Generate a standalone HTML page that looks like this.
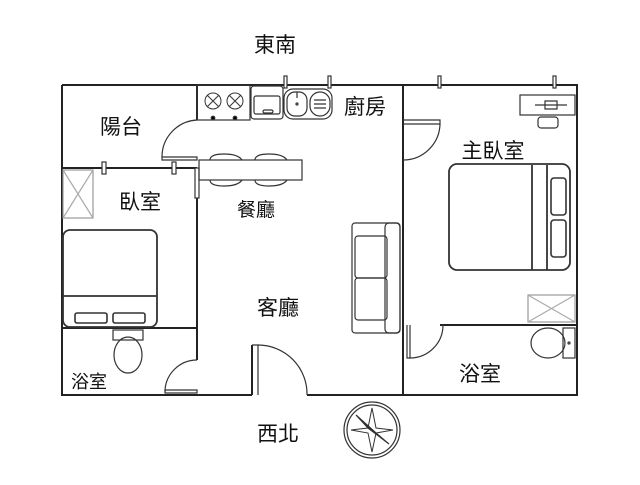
<!DOCTYPE html>
<html><head><meta charset="utf-8"><style>
body{margin:0;background:#fff;width:640px;height:480px;overflow:hidden}
text{font-family:"Liberation Sans","Noto Sans CJK TC",sans-serif;fill:#111}
</style></head><body>
<svg width="640" height="480" viewBox="0 0 640 480" xmlns="http://www.w3.org/2000/svg">
<g fill="none" stroke="#222" stroke-width="2">
<path d="M62 85 H577 V395 H307"/>
<path d="M252 395 H62 V85"/>
<path d="M197 85 V120"/>
<path d="M62 168 H197"/>
<path d="M197 168 V360"/>
<path d="M62 328 H197"/>
<path d="M252 345 V395"/>
<path d="M403 85 V395"/>
<path d="M440 325 H577"/>
</g>
<g fill="none" stroke="#333" stroke-width="1.2">
<path d="M197 120 A37 37 0 0 0 162 157"/><path d="M162 157 H197 V160 H162 Z"/>
<rect x="102" y="162" width="4" height="12" fill="#fff"/><rect x="172" y="162" width="4" height="12" fill="#fff"/>
<rect x="284" y="76" width="3" height="12" fill="#fff"/><rect x="328" y="76" width="3" height="12" fill="#fff"/>
<rect x="438" y="76" width="3" height="12" fill="#fff"/><rect x="553" y="76" width="3" height="12" fill="#fff"/>
<rect x="195" y="168" width="4" height="30" fill="#fff"/>
<path d="M197 360 A32 32 0 0 0 165 392"/><path d="M165 390 H197 V393 H165 Z"/>
<path d="M252 345 H258 V395"/><path d="M258 345 A49 49 0 0 1 307 395"/>
<path d="M403 120 H440 V124 H403"/><path d="M440 124 A37 37 0 0 1 403 160"/>
<path d="M407 325 V358 H410 V325"/><path d="M443 325 A33 33 0 0 1 410 358"/>
<rect x="197" y="85" width="53" height="35"/>
<g stroke-width="1"><circle cx="213" cy="101" r="8"/><circle cx="235" cy="101" r="8"/>
<path d="M207 95 l12 12 M219 95 l-12 12 M229 95 l12 12 M241 95 l-12 12"/></g>
<circle cx="213" cy="118" r="1.8" fill="#000"/><circle cx="235" cy="118" r="1.8" fill="#000"/>
<rect x="251" y="86" width="32" height="33" rx="3"/>
<rect x="254" y="96" width="26" height="18" rx="2"/>
<rect x="263" y="110" width="10" height="3" rx="1.5"/>
<rect x="284" y="89" width="48" height="30" rx="9"/>
<rect x="287" y="92" width="20" height="24" rx="8"/><rect x="310" y="92" width="20" height="24" rx="10"/>
<path d="M314 100 h12 M314 104 h12 M314 108 h12"/><circle cx="297" cy="104" r="1"/><path d="M297 92 v6"/>
<rect x="199" y="160" width="103" height="20"/>
<path d="M210 160 q0 -6 14 -6 q14 0 18 6 M255 160 q0 -6 14 -6 q14 0 18 6 M210 180 q0 6 14 6 q14 0 18 -6 M255 180 q0 6 14 6 q14 0 18 -6"/>
<rect x="352" y="223" width="48" height="110" rx="3"/>
<rect x="385" y="223" width="15" height="110" rx="4"/>
<rect x="355" y="236" width="32" height="42" rx="3"/><rect x="355" y="278" width="32" height="42" rx="3"/>
<rect x="63" y="170" width="30" height="48" stroke="#999"/><path d="M63 170 L93 218 M93 170 L63 218" stroke="#aaa"/>
<rect x="63" y="230" width="94" height="97" rx="7" stroke-width="1.8"/>
<path d="M63 296 H157" stroke-width="1.8"/>
<rect x="75" y="313" width="32" height="10" rx="2" stroke-width="1.6"/><rect x="113" y="313" width="32" height="10" rx="2" stroke-width="1.6"/>
<rect x="113" y="330" width="30" height="10"/><ellipse cx="128" cy="355" rx="14" ry="18"/>
<rect x="449" y="164" width="121" height="106" rx="8" stroke-width="1.8"/>
<path d="M532 165 V270 M547 165 V270" stroke-width="1.8"/>
<rect x="551" y="178" width="15" height="37" rx="3" stroke-width="1.6"/><rect x="551" y="220" width="15" height="37" rx="3" stroke-width="1.6"/>
<rect x="520" y="95" width="55" height="20"/><path d="M535 105 h32 M545 101 h12 v8 h-12 z"/>
<rect x="538" y="117" width="20" height="11" rx="3"/>
<rect x="528" y="295" width="47" height="27" stroke="#999"/><path d="M528 295 L575 322 M575 295 L528 322" stroke="#aaa"/>
<rect x="563" y="328" width="12" height="30"/><ellipse cx="548" cy="343" rx="17" ry="15"/><circle cx="569" cy="343" r="1"/>
<circle cx="372" cy="430" r="28"/><circle cx="372" cy="430" r="25"/>
<path d="M372 408 L376 428 L393 430 L376 433 L372 452 L368 433 L351 430 L368 428 Z" stroke-width="1"/>
<path d="M356 415 L376 433 L389 444 L368 428 Z" fill="#111"/>
</g>
<g font-size="21" text-anchor="middle">
<text x="275" y="52">東南</text>
<text x="121" y="134">陽台</text>
<text x="365" y="114">廚房</text>
<text x="140" y="209">臥室</text>
<text x="256" y="216" font-size="19">餐廳</text>
<text x="493" y="158">主臥室</text>
<text x="278" y="315">客廳</text>
<text x="89" y="388" font-size="18">浴室</text>
<text x="480" y="381">浴室</text>
<text x="278" y="441">西北</text>
</g>
</svg>
</body></html>
